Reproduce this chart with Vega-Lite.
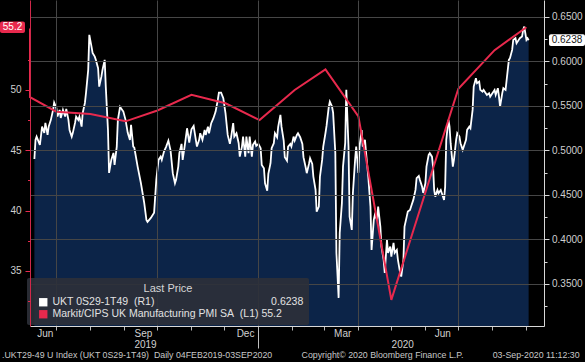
{
  "$schema": "https://vega.github.io/schema/vega-lite/v6.json",
  "width": 514,
  "height": 326,
  "autosize": {"type": "none"},
  "padding": {"left": 30, "top": 0, "right": 41, "bottom": 36},
  "background": "#000000",
  "config": {
    "view": {"stroke": null},
    "font": "Liberation Sans",
    "axis": {"labelFont": "Liberation Sans", "labelFontSize": 10, "labelColor": "#cfcfcf", "title": null, "labelOverlap": false, "labelFlush": false}
  },
  "title": {
    "text": ".UKT29-49 U Index (UKT 0S29-1T49)\u00a0\u00a0Daily 04FEB2019-03SEP2020\u00a0\u00a0\u00a0\u00a0\u00a0\u00a0\u00a0\u00a0\u00a0\u00a0\u00a0\u00a0Copyright© 2020 Bloomberg Finance L.P.\u00a0\u00a0\u00a0\u00a0\u00a0\u00a0\u00a0\u00a0\u00a0\u00a0\u00a0\u00a003-Sep-2020 11:12:30",
    "orient": "bottom",
    "anchor": "start",
    "frame": "bounds",
    "font": "Liberation Sans",
    "fontSize": 8.8,
    "fontWeight": "normal",
    "color": "#c8c8c8",
    "offset": 2,
    "dx": 2
  },
  "datasets": {
    "ukt": [
      {"date":"2019-06-11","v":0.4904},{"date":"2019-06-12","v":0.5118},{"date":"2019-06-13","v":0.5155},{"date":"2019-06-16","v":0.5062},
      {"date":"2019-06-18","v":0.5267},{"date":"2019-06-20","v":0.5197},{"date":"2019-06-21","v":0.5309},{"date":"2019-06-23","v":0.5174},
      {"date":"2019-06-24","v":0.5267},{"date":"2019-06-26","v":0.5343},{"date":"2019-06-28","v":0.5455},{"date":"2019-06-29","v":0.5537},
      {"date":"2019-07-01","v":0.5478},{"date":"2019-07-02","v":0.538},{"date":"2019-07-04","v":0.5455},{"date":"2019-07-05","v":0.5365},
      {"date":"2019-07-07","v":0.5455},{"date":"2019-07-09","v":0.538},{"date":"2019-07-10","v":0.5466},{"date":"2019-07-12","v":0.5343},
      {"date":"2019-07-13","v":0.523},{"date":"2019-07-15","v":0.5155},{"date":"2019-07-16","v":0.5197},{"date":"2019-07-18","v":0.5309},
      {"date":"2019-07-19","v":0.538},{"date":"2019-07-21","v":0.5343},{"date":"2019-07-22","v":0.538},{"date":"2019-07-24","v":0.5267},
      {"date":"2019-07-25","v":0.5421},{"date":"2019-07-27","v":0.5534},{"date":"2019-07-28","v":0.5646},{"date":"2019-07-30","v":0.5904},
      {"date":"2019-07-31","v":0.6298},{"date":"2019-08-02","v":0.6166},{"date":"2019-08-03","v":0.6096},{"date":"2019-08-05","v":0.6054},
      {"date":"2019-08-06","v":0.6017},{"date":"2019-08-08","v":0.5924},{"date":"2019-08-09","v":0.5717},{"date":"2019-08-11","v":0.5829},
      {"date":"2019-08-12","v":0.5904},{"date":"2019-08-14","v":0.6017},{"date":"2019-08-15","v":0.5717},{"date":"2019-08-17","v":0.523},
      {"date":"2019-08-18","v":0.4747},{"date":"2019-08-20","v":0.4893},{"date":"2019-08-22","v":0.4972},{"date":"2019-08-23","v":0.4837},
      {"date":"2019-08-25","v":0.5043},{"date":"2019-08-26","v":0.5343},{"date":"2019-08-28","v":0.5489},{"date":"2019-08-31","v":0.5436},
      {"date":"2019-09-02","v":0.5343},{"date":"2019-09-04","v":0.5197},{"date":"2019-09-06","v":0.5118},{"date":"2019-09-07","v":0.5287},
      {"date":"2019-09-09","v":0.5043},{"date":"2019-09-10","v":0.503},{"date":"2019-09-13","v":0.4818},{"date":"2019-09-16","v":0.4631},
      {"date":"2019-09-19","v":0.441},{"date":"2019-09-21","v":0.4219},{"date":"2019-09-22","v":0.4197},{"date":"2019-09-25","v":0.4242},
      {"date":"2019-09-28","v":0.4301},{"date":"2019-09-30","v":0.4669},{"date":"2019-10-02","v":0.4893},{"date":"2019-10-04","v":0.493},
      {"date":"2019-10-05","v":0.4893},{"date":"2019-10-07","v":0.4987},{"date":"2019-10-09","v":0.5043},{"date":"2019-10-11","v":0.511},
      {"date":"2019-10-13","v":0.4998},{"date":"2019-10-15","v":0.4744},{"date":"2019-10-17","v":0.4631},{"date":"2019-10-18","v":0.4669},
      {"date":"2019-10-20","v":0.4818},{"date":"2019-10-21","v":0.4968},{"date":"2019-10-23","v":0.5073},{"date":"2019-10-24","v":0.4893},
      {"date":"2019-10-26","v":0.5062},{"date":"2019-10-28","v":0.5249},{"date":"2019-10-30","v":0.5088},{"date":"2019-11-01","v":0.5238},
      {"date":"2019-11-03","v":0.5275},{"date":"2019-11-05","v":0.5118},{"date":"2019-11-06","v":0.5043},{"date":"2019-11-08","v":0.5118},
      {"date":"2019-11-09","v":0.5193},{"date":"2019-11-11","v":0.5118},{"date":"2019-11-13","v":0.523},{"date":"2019-11-14","v":0.5174},
      {"date":"2019-11-16","v":0.5267},{"date":"2019-11-17","v":0.5193},{"date":"2019-11-19","v":0.5306},{"date":"2019-11-21","v":0.5362},
      {"date":"2019-11-23","v":0.5436},{"date":"2019-11-25","v":0.5567},{"date":"2019-11-26","v":0.5649},{"date":"2019-11-28","v":0.5649},
      {"date":"2019-11-30","v":0.5587},{"date":"2019-12-02","v":0.5418},{"date":"2019-12-04","v":0.5174},{"date":"2019-12-06","v":0.5073},
      {"date":"2019-12-07","v":0.514},{"date":"2019-12-09","v":0.5306},{"date":"2019-12-10","v":0.5155},{"date":"2019-12-12","v":0.5193},
      {"date":"2019-12-14","v":0.5081},{"date":"2019-12-15","v":0.493},{"date":"2019-12-17","v":0.5043},{"date":"2019-12-18","v":0.5155},
      {"date":"2019-12-20","v":0.493},{"date":"2019-12-21","v":0.5155},{"date":"2019-12-23","v":0.4968},{"date":"2019-12-24","v":0.5155},
      {"date":"2019-12-26","v":0.493},{"date":"2019-12-27","v":0.5062},{"date":"2019-12-29","v":0.51},{"date":"2019-12-30","v":0.5051},
      {"date":"2020-01-01","v":0.5073},{"date":"2020-01-03","v":0.5025},{"date":"2020-01-04","v":0.4837},{"date":"2020-01-06","v":0.48},
      {"date":"2020-01-07","v":0.4631},{"date":"2020-01-09","v":0.4548},{"date":"2020-01-10","v":0.4736},{"date":"2020-01-12","v":0.4856},
      {"date":"2020-01-13","v":0.5025},{"date":"2020-01-15","v":0.5081},{"date":"2020-01-16","v":0.5193},{"date":"2020-01-18","v":0.5148},
      {"date":"2020-01-19","v":0.5267},{"date":"2020-01-21","v":0.5399},{"date":"2020-01-22","v":0.5267},{"date":"2020-01-24","v":0.511},
      {"date":"2020-01-25","v":0.4924},{"date":"2020-01-27","v":0.4885},{"date":"2020-01-28","v":0.5043},{"date":"2020-01-30","v":0.5073},
      {"date":"2020-01-31","v":0.5043},{"date":"2020-02-02","v":0.5155},{"date":"2020-02-03","v":0.511},{"date":"2020-02-05","v":0.5174},
      {"date":"2020-02-06","v":0.5193},{"date":"2020-02-08","v":0.5148},{"date":"2020-02-10","v":0.5073},{"date":"2020-02-11","v":0.4924},
      {"date":"2020-02-13","v":0.4811},{"date":"2020-02-14","v":0.4744},{"date":"2020-02-16","v":0.4848},{"date":"2020-02-17","v":0.4912},
      {"date":"2020-02-19","v":0.4848},{"date":"2020-02-20","v":0.4706},{"date":"2020-02-22","v":0.4556},{"date":"2020-02-23","v":0.4312},
      {"date":"2020-02-25","v":0.4369},{"date":"2020-02-26","v":0.4706},{"date":"2020-02-28","v":0.4893},{"date":"2020-02-29","v":0.5043},
      {"date":"2020-03-02","v":0.5193},{"date":"2020-03-03","v":0.5275},{"date":"2020-03-05","v":0.5485},{"date":"2020-03-06","v":0.5548},
      {"date":"2020-03-08","v":0.5492},{"date":"2020-03-09","v":0.5421},{"date":"2020-03-11","v":0.4972},{"date":"2020-03-12","v":0.3848},
      {"date":"2020-03-14","v":0.3343},{"date":"2020-03-15","v":0.4073},{"date":"2020-03-17","v":0.441},{"date":"2020-03-18","v":0.4818},
      {"date":"2020-03-20","v":0.5084},{"date":"2020-03-21","v":0.568},{"date":"2020-03-23","v":0.5043},{"date":"2020-03-24","v":0.4256},
      {"date":"2020-03-26","v":0.4107},{"date":"2020-03-27","v":0.4522},{"date":"2020-03-29","v":0.4893},{"date":"2020-03-30","v":0.5043},
      {"date":"2020-04-01","v":0.4747},{"date":"2020-04-02","v":0.5043},{"date":"2020-04-04","v":0.523},{"date":"2020-04-05","v":0.5043},
      {"date":"2020-04-07","v":0.5118},{"date":"2020-04-08","v":0.4972},{"date":"2020-04-10","v":0.4706},{"date":"2020-04-12","v":0.4369},
      {"date":"2020-04-13","v":0.3882},{"date":"2020-04-15","v":0.4219},{"date":"2020-04-16","v":0.4275},{"date":"2020-04-18","v":0.4219},
      {"date":"2020-04-19","v":0.4369},{"date":"2020-04-21","v":0.4144},{"date":"2020-04-22","v":0.3919},{"date":"2020-04-24","v":0.377},
      {"date":"2020-04-25","v":0.3624},{"date":"2020-04-27","v":0.3994},{"date":"2020-04-28","v":0.3848},{"date":"2020-04-30","v":0.3919},
      {"date":"2020-05-01","v":0.3807},{"date":"2020-05-03","v":0.3961},{"date":"2020-05-04","v":0.3848},{"date":"2020-05-06","v":0.3882},
      {"date":"2020-05-07","v":0.377},{"date":"2020-05-09","v":0.3624},{"date":"2020-05-10","v":0.3582},{"date":"2020-05-12","v":0.377},
      {"date":"2020-05-13","v":0.4144},{"date":"2020-05-15","v":0.4256},{"date":"2020-05-16","v":0.4312},{"date":"2020-05-18","v":0.4331},
      {"date":"2020-05-19","v":0.4369},{"date":"2020-05-21","v":0.4444},{"date":"2020-05-23","v":0.4556},{"date":"2020-05-24","v":0.4688},
      {"date":"2020-05-26","v":0.4713},{"date":"2020-05-27","v":0.4669},{"date":"2020-05-29","v":0.4593},{"date":"2020-05-30","v":0.4522},
      {"date":"2020-06-01","v":0.4631},{"date":"2020-06-02","v":0.4818},{"date":"2020-06-04","v":0.4949},{"date":"2020-06-05","v":0.4968},
      {"date":"2020-06-07","v":0.493},{"date":"2020-06-08","v":0.4818},{"date":"2020-06-09","v":0.4556},{"date":"2020-06-10","v":0.4481},
      {"date":"2020-06-12","v":0.4556},{"date":"2020-06-13","v":0.4519},{"date":"2020-06-15","v":0.4556},{"date":"2020-06-16","v":0.4519},
      {"date":"2020-06-18","v":0.4444},{"date":"2020-06-19","v":0.4593},{"date":"2020-06-20","v":0.5118},{"date":"2020-06-22","v":0.5343},
      {"date":"2020-06-23","v":0.5267},{"date":"2020-06-24","v":0.5081},{"date":"2020-06-26","v":0.4818},{"date":"2020-06-27","v":0.4893},
      {"date":"2020-06-29","v":0.5118},{"date":"2020-06-30","v":0.5193},{"date":"2020-07-02","v":0.5155},{"date":"2020-07-03","v":0.5081},
      {"date":"2020-07-05","v":0.5006},{"date":"2020-07-06","v":0.5043},{"date":"2020-07-08","v":0.5118},{"date":"2020-07-09","v":0.523},
      {"date":"2020-07-11","v":0.5267},{"date":"2020-07-12","v":0.5249},{"date":"2020-07-14","v":0.5455},{"date":"2020-07-15","v":0.5717},
      {"date":"2020-07-17","v":0.5811},{"date":"2020-07-18","v":0.5755},{"date":"2020-07-20","v":0.5773},{"date":"2020-07-21","v":0.568},
      {"date":"2020-07-23","v":0.5661},{"date":"2020-07-24","v":0.568},{"date":"2020-07-26","v":0.5643},{"date":"2020-07-27","v":0.5624},
      {"date":"2020-07-29","v":0.5643},{"date":"2020-07-30","v":0.5604},{"date":"2020-08-01","v":0.5643},{"date":"2020-08-03","v":0.568},
      {"date":"2020-08-04","v":0.5624},{"date":"2020-08-06","v":0.5699},{"date":"2020-08-07","v":0.5604},{"date":"2020-08-08","v":0.5492},
      {"date":"2020-08-10","v":0.5643},{"date":"2020-08-11","v":0.5699},{"date":"2020-08-13","v":0.568},{"date":"2020-08-14","v":0.5792},
      {"date":"2020-08-16","v":0.6017},{"date":"2020-08-17","v":0.6036},{"date":"2020-08-19","v":0.6129},{"date":"2020-08-20","v":0.6242},
      {"date":"2020-08-22","v":0.6261},{"date":"2020-08-23","v":0.6204},{"date":"2020-08-25","v":0.6242},{"date":"2020-08-26","v":0.6261},
      {"date":"2020-08-28","v":0.6279},{"date":"2020-08-29","v":0.6354},{"date":"2020-08-30","v":0.6391},{"date":"2020-08-31","v":0.6317},
      {"date":"2020-09-01","v":0.6242},{"date":"2020-09-02","v":0.6261},{"date":"2020-09-03","v":0.6238}
    ],
    "pmi": [
      {"date":"2019-03-01","pmi":52.0},{"date":"2019-04-01","pmi":55.1},{"date":"2019-05-01","pmi":53.1},{"date":"2019-06-03","pmi":49.4},
      {"date":"2019-07-01","pmi":48.2},{"date":"2019-08-01","pmi":48.0},{"date":"2019-09-02","pmi":47.4},{"date":"2019-10-01","pmi":48.3},
      {"date":"2019-11-01","pmi":49.6},{"date":"2019-12-02","pmi":48.9},{"date":"2020-01-02","pmi":47.5},{"date":"2020-02-03","pmi":50.0},
      {"date":"2020-03-02","pmi":51.7},{"date":"2020-04-01","pmi":47.8},{"date":"2020-05-01","pmi":32.6},{"date":"2020-06-01","pmi":41.5},
      {"date":"2020-07-01","pmi":50.1},{"date":"2020-08-03","pmi":53.3},{"date":"2020-09-01","pmi":55.2}
    ]
  },
  "layer": [
    {
      "data": {"name": "ukt"},
      "layer": [
        {
          "mark": {"type": "area", "color": "#0c2448", "opacity": 1},
          "encoding": {
            "x": {
              "field": "date", "type": "temporal",
              "scale": {"domain": [{"year": 2019, "month": 6, "date": 7}, {"year": 2020, "month": 9, "date": 17}], "nice": false, "clamp": true},
              "axis": {
                "orient": "bottom",
                "values": [
                  {"year": 2019, "month": 7, "date": 1}, {"year": 2019, "month": 8, "date": 1}, {"year": 2019, "month": 9, "date": 1},
                  {"year": 2019, "month": 10, "date": 1}, {"year": 2019, "month": 11, "date": 1}, {"year": 2019, "month": 12, "date": 1},
                  {"year": 2020, "month": 1, "date": 1}, {"year": 2020, "month": 2, "date": 1}, {"year": 2020, "month": 3, "date": 1},
                  {"year": 2020, "month": 4, "date": 1}, {"year": 2020, "month": 5, "date": 1}, {"year": 2020, "month": 6, "date": 1},
                  {"year": 2020, "month": 7, "date": 1}, {"year": 2020, "month": 8, "date": 1}, {"year": 2020, "month": 9, "date": 1}
                ],
                "labels": false,
                "ticks": true,
                "tickSize": 4,
                "tickColor": "#b8b8b8",
                "domain": true,
                "domainColor": "#d8d8d8",
                "grid": false,
                "zindex": 1,
                "title": null
              }
            },
            "y": {
              "field": "v", "type": "quantitative",
              "scale": {"domain": [0.3027, 0.669], "nice": false, "zero": false},
              "axis": {
                "orient": "right",
                "values": [0.35, 0.4, 0.45, 0.5, 0.55, 0.6, 0.65],
                "format": ".4f",
                "tickSize": 5,
                "tickColor": "#d8d8d8",
                "domainColor": "#d8d8d8",
                "labelPadding": 2.5,
                "grid": true,
                "gridColor": "#464646",
                "gridWidth": 1,
                "zindex": 1,
                "title": null
              }
            },
            "y2": {"datum": 0.3027}
          }
        },
        {
          "mark": {"type": "line", "color": "#ffffff", "strokeWidth": 1.8},
          "encoding": {
            "x": {
              "field": "date", "type": "temporal",
              "axis": {
                "orient": "bottom",
                "values": [
                  {"year": 2019, "month": 7, "date": 1}, {"year": 2019, "month": 10, "date": 1}, {"year": 2020, "month": 1, "date": 1},
                  {"year": 2020, "month": 4, "date": 1}, {"year": 2020, "month": 7, "date": 1}
                ],
                "labels": false, "ticks": false, "domain": false,
                "grid": true,
                "gridColor": "#464646",
                "gridWidth": 1,
                "zindex": 1,
                "title": null
              }
            },
            "y": {
              "field": "v", "type": "quantitative",
              "axis": {
                "orient": "right",
                "values": [0.325, 0.375, 0.425, 0.475, 0.525, 0.575, 0.625],
                "labels": false, "domain": false, "grid": false,
                "tickSize": 3,
                "tickColor": "#d8d8d8",
                "title": null
              }
            }
          }
        },
        {
          "data": {"values": [{}]},
          "mark": {"type": "rect", "xOffset": 5, "x2Offset": 41, "cornerRadius": 2},
          "encoding": {
            "x": {
              "datum": {"year": 2020, "month": 9, "date": 17}, "type": "temporal",
              "axis": {
                "orient": "bottom",
                "values": [
                  {"year": 2019, "month": 6, "date": 20, "hours": 12}, {"year": 2019, "month": 9, "date": 17, "hours": 21},
                  {"year": 2019, "month": 12, "date": 19, "hours": 19}, {"year": 2020, "month": 3, "date": 17, "hours": 6},
                  {"year": 2020, "month": 6, "date": 16, "hours": 10}
                ],
                "format": "%b",
                "ticks": false, "domain": false, "grid": false,
                "labelPadding": 2,
                "labelColor": "#d0d0d0",
                "title": null
              }
            },
            "x2": {"datum": {"year": 2020, "month": 9, "date": 17}},
            "y": {"datum": 0.6304, "type": "quantitative", "axis": null},
            "y2": {"datum": 0.6172},
            "color": {
              "datum": "UKT 0S29-1T49\u00a0\u00a0(R1)",
              "type": "nominal",
              "scale": {"domain": ["UKT 0S29-1T49\u00a0\u00a0(R1)", "Markit/CIPS UK Manufacturing PMI SA\u00a0\u00a0(L1)"], "range": ["#ffffff", "#e8294d"]},
              "legend": {
                "orient": "none",
                "legendX": -3,
                "legendY": 278,
                "zindex": 2,
                "title": "Last Price",
                "titleFont": "Liberation Sans",
                "titleColor": "#d6d6d6",
                "titleFontSize": 11,
                "titleFontWeight": "normal",
                "titleAnchor": "middle",
                "titlePadding": 3,
                "fillColor": "rgba(44,48,56,0.9)",
                "cornerRadius": 2,
                "padding": 5,
                "symbolType": "square",
                "symbolSize": 70,
                "symbolOffset": 6,
                "symbolStrokeWidth": 0,
                "labelFont": "Liberation Sans",
                "labelFontSize": 10.5,
                "labelColor": "#e2e2e2",
                "labelOffset": 4,
                "labelLimit": 400,
                "rowPadding": 1,
                "labelExpr": "indexof(datum.label, 'UKT') == 0 ? datum.label + '\u00a0\u00a0\u00a0\u00a0\u00a0\u00a0\u00a0\u00a0\u00a0\u00a0\u00a0\u00a0\u00a0\u00a0\u00a0\u00a0\u00a0\u00a0\u00a0\u00a0\u00a0\u00a0\u00a0\u00a0\u00a0\u00a0\u00a0\u00a0\u00a0\u00a0\u00a0\u00a0\u00a0\u00a0\u00a0\u00a0\u00a0\u00a0\u00a0\u00a00.6238' : datum.label + ' 55.2'"
              }
            }
          }
        },
        {
          "data": {"values": [{}]},
          "mark": {"type": "text", "text": "0.6238", "dx": 23, "fontSize": 10, "color": "#151515", "align": "center", "baseline": "middle"},
          "encoding": {
            "x": {"datum": {"year": 2020, "month": 9, "date": 17}, "type": "temporal", "axis": null},
            "y": {"datum": 0.6238, "type": "quantitative", "axis": null}
          }
        }
      ],
      "resolve": {"axis": {"x": "independent", "y": "independent"}}
    },
    {
      "data": {"name": "pmi"},
      "layer": [
        {
          "mark": {"type": "line", "color": "#e8294d", "strokeWidth": 2},
          "encoding": {
            "x": {
              "field": "date", "type": "temporal",
              "axis": {
                "orient": "bottom",
                "values": [{"year": 2019, "month": 9, "date": 19, "hours": 17}, {"year": 2020, "month": 5, "date": 10, "hours": 22}],
                "format": "%Y",
                "ticks": false, "domain": false, "grid": false,
                "labelPadding": 13,
                "labelColor": "#d0d0d0",
                "title": null
              }
            },
            "y": {
              "field": "pmi", "type": "quantitative",
              "scale": {"domain": [30.43, 57.46], "nice": false, "zero": false},
              "axis": {
                "orient": "left",
                "values": [35, 40, 45, 50],
                "format": "d",
                "tickSize": 5,
                "tickColor": "#e8294d",
                "domainColor": "#d0284a",
                "labelPadding": 4,
                "grid": false,
                "zindex": 3,
                "title": null
              }
            }
          }
        },
        {
          "data": {"values": [{}]},
          "mark": {"type": "rect", "xOffset": -30, "x2Offset": -5, "cornerRadius": 2},
          "encoding": {
            "x": {
              "datum": {"year": 2019, "month": 6, "date": 7}, "type": "temporal",
              "axis": {
                "orient": "bottom",
                "values": [{"year": 2020, "month": 1, "date": 1}],
                "labels": false, "domain": false, "grid": false,
                "ticks": true, "tickSize": 22, "tickColor": "#c0c0c0",
                "title": null
              }
            },
            "x2": {"datum": {"year": 2019, "month": 6, "date": 7}},
            "y": {
              "datum": 55.67, "type": "quantitative",
              "axis": {
                "orient": "left",
                "values": [32.5, 37.5, 42.5, 47.5, 52.5],
                "labels": false, "domain": false, "grid": false,
                "tickSize": 2.5,
                "tickColor": "#e8294d",
                "zindex": 3,
                "title": null
              }
            },
            "y2": {"datum": 54.73},
            "color": {"datum": "Markit/CIPS UK Manufacturing PMI SA\u00a0\u00a0(L1)", "type": "nominal"}
          }
        },
        {
          "data": {"values": [{}]},
          "mark": {"type": "text", "text": "55.2", "dx": -17.5, "fontSize": 10, "color": "#ffffff", "align": "center", "baseline": "middle"},
          "encoding": {
            "x": {"datum": {"year": 2019, "month": 6, "date": 7}, "type": "temporal", "axis": null},
            "y": {"datum": 55.2, "type": "quantitative", "axis": null}
          }
        }
      ],
      "resolve": {"axis": {"x": "independent", "y": "independent"}}
    }
  ],
  "resolve": {"scale": {"y": "independent"}, "axis": {"x": "independent"}}
}
